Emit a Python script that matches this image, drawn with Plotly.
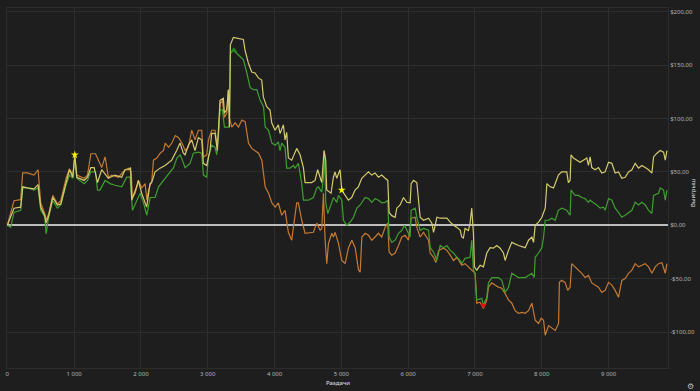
import plotly.graph_objects as go

# ---------------- data ----------------
yellow_hands = [0, 100, 200, 230, 300, 400, 460, 500, 560, 580, 620, 680, 750, 800, 880, 930, 980, 1010, 1040, 1150,
                1200, 1250, 1300, 1350, 1413, 1512, 1612, 1712, 1762, 1811, 1845, 1862, 1935, 1961, 2011, 2086, 2136,
                2161, 2211, 2286, 2361, 2461, 2535, 2585, 2635, 2660, 2710, 2760, 2810, 2860, 2910, 2934, 2984, 3034,
                3059, 3109, 3144, 3184, 3234, 3249, 3284, 3309, 3324, 3339, 3384, 3459, 3533, 3558, 3608, 3658, 3708,
                3758, 3808, 3833, 3883, 3933, 3958, 4008, 4057, 4082, 4132, 4157, 4182, 4207, 4257, 4332, 4382, 4432,
                4457, 4556, 4606, 4646, 4707, 4741, 4766, 4781, 4846, 4881, 4906, 4931, 4981, 5006, 5055, 5105, 5155,
                5205, 5255, 5305, 5355, 5405, 5455, 5505, 5555, 5605, 5655, 5695, 5715, 5755, 5805, 5830, 5880, 5930,
                5980, 6030, 6045, 6080, 6130, 6155, 6180, 6230, 6305, 6355, 6380, 6405, 6430, 6480, 6580, 6630, 6680,
                6730, 6780, 6802, 6827, 6852, 6902, 6927, 6952, 6977, 6992, 7027, 7077, 7127, 7177, 7227, 7277, 7327,
                7377, 7427, 7452, 7502, 7552, 7652, 7752, 7802, 7852, 7877, 7902, 7952, 8002, 8052, 8077, 8127, 8177,
                8249, 8299, 8374, 8399, 8424, 8439, 8474, 8524, 8574, 8624, 8674, 8699, 8724, 8749, 8799, 8849, 8899,
                8949, 8999, 9049, 9099, 9149, 9199, 9249, 9299, 9349, 9399, 9449, 9499, 9549, 9599, 9649, 9674, 9724,
                9774, 9824, 9849, 9874]
yellow_won = [0, 16, 17, 36, 35, 34, 38, 17, 9, 2, 9, 26, 19, 20, 40, 52, 45, 66, 45, 42,
              45, 54, 54, 40, 52, 44, 47, 45, 52, 52, 54, 23.5, 36, 42, 30, 17, 39,
              40, 50, 53.5, 56, 61, 70, 77, 67.5, 66, 75, 80, 70, 82, 80, 58, 56, 70,
              86, 86, 70, 117, 119, 105, 108, 127, 92, 169, 176, 175, 174, 164, 152, 143.5, 142.6,
              138, 136, 120, 111, 108, 96, 89, 94, 86, 94, 80, 87, 63, 61, 72, 66, 54,
              40, 40, 42, 52, 40, 70, 61, 33, 30, 45, 50, 44, 52, 33, 28, 23.5, 26,
              33, 36, 44, 47, 50, 47, 49, 45, 47, 44, 42, 12, 9, 7.5, 16, 19, 26,
              21.5, 21, 39, 42, 40, 23.5, 7.5, 4.7, 6.6, 2, -6.6, 0, 7.5, 6.6, 6.6, 3, 0,
              -2, -4.7, -11, -12, -3, -5, 2, 16, -7.5, -39, -42, -37.5, -39, -26, -21, -21.5, -19,
              -21.5, -26, -33, -23.5, -16, -19, -21, -14, -11, -16, 0, 3, 7.5, 16, 39, 36, 35,
              47, 50, 50, 40, 42, 66, 63, 61, 59, 61, 63, 56, 64, 54, 52, 54, 49,
              50, 59, 58, 49, 50, 44, 45, 50, 52, 58, 53.5, 56, 54, 52, 49, 64, 67.5,
              70, 68.5, 61, 70]

green_hands = [0, 50, 100, 200, 230, 300, 400, 460, 500, 560, 580, 620, 680, 750, 800, 880, 930, 980, 1010, 1040,
               1150, 1200, 1250, 1320, 1350, 1388, 1463, 1538, 1613, 1713, 1788, 1838, 1873, 1938, 1988, 2038, 2088,
               2138, 2213, 2263, 2338, 2413, 2488, 2538, 2588, 2638, 2660, 2735, 2785, 2860, 2910, 2935, 2985, 3010,
               3060, 3110, 3135, 3185, 3220, 3250, 3325, 3340, 3385, 3460, 3535, 3585, 3635, 3685, 3735, 3785, 3835,
               3860, 3910, 3960, 4010, 4057, 4082, 4107, 4157, 4182, 4232, 4282, 4307, 4357, 4407, 4432, 4507, 4582,
               4632, 4657, 4707, 4732, 4747, 4767, 4797, 4832, 4882, 4932, 4957, 5007, 5032, 5082, 5132, 5182, 5232,
               5282, 5357, 5407, 5455, 5505, 5555, 5605, 5655, 5695, 5715, 5755, 5805, 5855, 5905, 5945, 5980, 6030,
               6045, 6105, 6130, 6180, 6230, 6305, 6330, 6380, 6430, 6480, 6530, 6580, 6630, 6680, 6730, 6780, 6802,
               6852, 6927, 6952, 6977, 7002, 7027, 7102, 7127, 7177, 7202, 7252, 7352, 7402, 7452, 7502, 7552, 7652,
               7752, 7852, 7887, 7902, 7952, 8002, 8027, 8052, 8102, 8152, 8202, 8249, 8299, 8374, 8424, 8439, 8499,
               8549, 8599, 8649, 8699, 8724, 8774, 8824, 8874, 8924, 8949, 8999, 9049, 9099, 9149, 9199, 9249, 9299,
               9349, 9399, 9449, 9499, 9549, 9599, 9649, 9674, 9749, 9774, 9824, 9849, 9874]
green_won = [0, -2, 12, 14, 35, 35, 33, 35, 14, 8, -8, 8, 23, 16, 19, 38, 47, 44, 63, 44,
             39, 42, 50, 50, 33, 33, 42, 39, 37.5, 36, 45, 45, 14, 23.5, 30, 21, 9.4,
             26, 26, 36, 42, 47, 54, 63, 66, 58, 54, 58, 67.5, 68.5, 67.5, 47, 45, 64,
             75, 73, 66, 108, 108, 92, 92, 161, 164, 159.5, 155, 142.6, 129, 127, 127, 117, 111,
             92, 89, 77, 75, 78, 70, 77, 73, 53.5, 53.5, 56, 53.5, 58, 39, 23.5, 23.5, 26,
             35, 36, 31, 45, 70, 21, 11, 17, 26, 21.5, 28, 23.5, 4.7, 0, 3, 7.5, 16,
             19, 26, 25, 21.5, 25, 23.5, 21, 21.5, 23.5, -11, -16, -14, -7.5, -4.7, 0, -4.7, -11,
             14, 16, 7.5, -4.7, -3, -4.7, -21, -25, -33, -19, -21, -19, -23.5, -26, -30, -33, -36,
             -31, -30, -14, -42, -45, -70, -68.5, -75, -67.5, -54, -49, -49, -51.6, -63, -58, -45, -49,
             -49, -45, -49, -30, -26, -21, -11, 4.7, 4.7, 6.6, 4.7, 14, 16, 14, 9.4, 33, 28,
             28, 26, 25, 21.5, 23.5, 21, 19, 16, 17, 14, 25, 23.5, 16, 12, 7.5, 9.4, 12,
             14, 21.5, 19, 21.5, 19, 14, 11, 28, 30, 35, 33, 23.5, 33]

orange_hands = [0, 100, 200, 230, 300, 400, 460, 500, 560, 580, 620, 680, 750, 800, 880, 930, 980, 1010, 1040, 1150,
                1200, 1250, 1320, 1413, 1463, 1513, 1563, 1663, 1763, 1813, 1853, 1873, 1913, 1963, 2013, 2063, 2088,
                2113, 2163, 2188, 2238, 2288, 2338, 2363, 2413, 2463, 2513, 2563, 2613, 2663, 2710, 2760, 2810, 2860,
                2910, 2935, 2985, 3010, 3060, 3110, 3135, 3160, 3185, 3220, 3250, 3285, 3310, 3325, 3360, 3410, 3460,
                3510, 3560, 3610, 3660, 3710, 3760, 3810, 3860, 3910, 3960, 4010, 4057, 4107, 4157, 4207, 4257, 4282,
                4332, 4357, 4407, 4457, 4582, 4632, 4682, 4707, 4732, 4757, 4782, 4807, 4857, 4882, 4907, 4957, 5007,
                5057, 5107, 5157, 5207, 5257, 5282, 5307, 5357, 5407, 5455, 5505, 5555, 5605, 5655, 5695, 5715, 5755,
                5805, 5855, 5905, 5955, 6005, 6045, 6105, 6130, 6180, 6230, 6280, 6305, 6330, 6380, 6415, 6455, 6530,
                6580, 6630, 6680, 6730, 6780, 6802, 6852, 6902, 6952, 7002, 7027, 7077, 7127, 7177, 7202, 7252, 7352,
                7402, 7452, 7502, 7552, 7602, 7652, 7702, 7752, 7802, 7852, 7902, 7952, 7992, 8027, 8052, 8102, 8152,
                8202, 8252, 8264, 8299, 8349, 8389, 8424, 8449, 8499, 8549, 8599, 8649, 8699, 8749, 8799, 8849, 8899,
                8949, 8999, 9049, 9099, 9149, 9199, 9249, 9299, 9349, 9399, 9449, 9499, 9549, 9599, 9649, 9699, 9749,
                9799, 9849, 9874]
orange_won = [0, 23, 24, 49, 49, 47, 52, 21, 11, 5, 11, 28, 20, 23, 44, 53, 47, 64, 47, 44,
              47, 67, 67, 54, 64, 45, 47, 45, 52, 53.5, 50, 26, 30, 42, 35, 39, 23.5,
              33, 42, 61, 63, 67.5, 70, 77, 73, 77, 84, 82, 77, 70, 73, 89, 80, 89,
              89, 64, 66, 80, 89, 89, 77, 82.5, 114, 117, 101, 105, 127, 101, 92, 96, 92,
              98.5, 97, 77, 72, 70, 67.5, 61, 36, 30, 21, 17, 21, 9.4, 14, -6.6, -14, -2,
              21, 21, 4.7, -7.5, -6.6, 2, -4.7, -3, 30, -14, -36, -17, -7.5, -11, -6.6, -17, -33,
              -36, -21, -14, -21, -42, -44, -11, -7.5, -9.4, -14, -11, -7.5, -11, -2, 2, -25, -28,
              -26, -19, -11, -9.4, -14, 6.6, 7.5, -2, -11, -6.6, -11, -14, -26, -30, -35, -23.5, -21.5,
              -23.5, -28, -33, -30, -35, -37.5, -36, -39, -42, -45, -73, -72, -78, -70, -58, -54, -58,
              -59, -64, -70, -73, -80, -82.5, -81.6, -82.5, -80, -73, -89, -92, -87, -89, -103, -94, -96,
              -98.5, -92, -53.5, -51.6, -53.5, -61, -58, -36, -39, -42, -45, -49, -47, -54, -56, -58, -63,
              -61, -53.5, -56, -61, -67.5, -51.6, -50, -45, -42, -36, -39, -37.5, -36, -39, -45, -39, -36,
              -35, -45, -36]

star_hands = [1010, 5006]
star_won = [66, 33]
peak_hand = [3390]
peak_won = [164]
low_hand = [7127]
low_won = [-75]

x_tick_vals = [0, 1000, 2000, 3000, 4000, 5000, 6000, 7000, 8000, 9000]
x_tick_text = ["0", "1 000", "2 000", "3 000", "4 000", "5 000", "6 000", "7 000", "8 000", "9 000"]
y_tick_vals = [200, 150, 100, 50, 0, -50, -100]
y_tick_text = ["$200,00", "$150,00", "$100,00", "$50,00", "$0,00", "-$50,00", "-$100,00"]

# ---------------- figure ----------------
BG = "#1e1e1e"
GRID = "#2d2d2d"
FONT = "Noto Sans"
W, H = 700, 391
ML, MR, MT, MB = 7, 32, 8, 23
plot_w = W - ML - MR
plot_h = H - MT - MB


def px(sx):
    return (sx - ML) / plot_w


def py(sy):
    return (H - MB - sy) / plot_h


fig = go.Figure()
fig.add_trace(go.Scatter(x=orange_hands, y=orange_won, mode="lines",
                         line=dict(color="#c57a32", width=1.2), showlegend=False))
fig.add_trace(go.Scatter(x=green_hands, y=green_won, mode="lines",
                         line=dict(color="#3f9e2f", width=1.2), showlegend=False))
fig.add_trace(go.Scatter(x=yellow_hands, y=yellow_won, mode="lines",
                         line=dict(color="#d4cb6c", width=1.2), showlegend=False))
fig.add_trace(go.Scatter(x=star_hands, y=star_won, mode="markers",
                         marker=dict(symbol="star", size=6, color="#f5f000"), showlegend=False))
fig.add_trace(go.Scatter(x=peak_hand, y=peak_won, mode="markers",
                         marker=dict(symbol="triangle-up", size=6, color="#1d8a1d"), showlegend=False))
fig.add_trace(go.Scatter(x=low_hand, y=low_won, mode="markers",
                         marker=dict(symbol="triangle-down", size=6, color="#e01010"), showlegend=False))

fig.update_layout(
    width=W, height=H,
    margin=dict(l=ML, r=MR, t=MT, b=MB, pad=0, autoexpand=False),
    paper_bgcolor=BG, plot_bgcolor=BG,
    font=dict(family=FONT, size=6, color="#b4b4b4"),
    xaxis=dict(range=[-5, 9890], tickvals=x_tick_vals, ticktext=x_tick_text, automargin=False,
               ticklabeloverflow="allow",
               showgrid=True, gridcolor=GRID, gridwidth=1, zeroline=False,
               showline=True, linecolor=GRID, mirror=True,
               ticks="", ticklen=0, tickfont=dict(size=6, color="#b4b4b4")),
    yaxis=dict(range=[-133.7, 203.5], side="right", tickvals=y_tick_vals, ticktext=y_tick_text,
               automargin=False, ticklabeloverflow="allow",
               showgrid=True, gridcolor=GRID, gridwidth=1,
               zeroline=True, zerolinecolor="#bdbdbd", zerolinewidth=2,
               showline=True, linecolor=GRID, mirror=True,
               ticks="", ticklen=0, tickfont=dict(size=6, color="#b4b4b4")),
)
fig.add_annotation(text="Раздачи", xref="paper", yref="paper",
                   x=px(338), y=py(383), xanchor="center", yanchor="middle", showarrow=False,
                   font=dict(size=6, color="#e0e0e0"))
fig.add_annotation(text="Выигрыш", xref="paper", yref="paper",
                   x=px(693), y=py(193), xanchor="center", yanchor="middle", showarrow=False,
                   textangle=-90, font=dict(size=6, color="#e0e0e0"))
fig.add_annotation(text="⚙", xref="paper", yref="paper",
                   x=px(690), y=py(385), xanchor="center", yanchor="middle", showarrow=False,
                   font=dict(size=8, color="#bdbdbd"))

fig.write_html("out.html", config={"displayModeBar": False},
               post_script="document.body.style.margin='0';document.body.style.overflow='hidden';")
